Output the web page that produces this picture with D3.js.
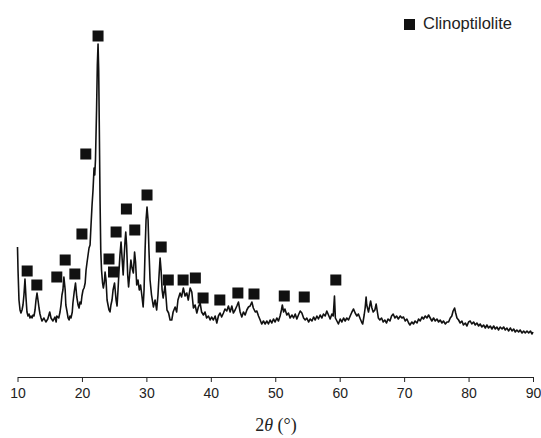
<!DOCTYPE html>
<html>
<head>
<meta charset="utf-8">
<script src="https://cdn.jsdelivr.net/npm/d3@7/dist/d3.min.js"></script>
<style>
body { margin: 0; background: #fff; }
</style>
</head>
<body>
<svg id="chart"></svg>
<script>
// measured pattern, 2theta (deg) and intensity (a.u.)
var twoTheta = [
10.0,10.08,10.23,10.39,10.54,10.70,10.85,11.0,11.16,11.32,11.47,11.63,11.79,11.94,12.1,12.25,12.41,12.56,12.72,12.87,
13.03,13.18,13.34,13.49,13.65,13.8,14.1,14.4,14.7,15.0,15.2,15.5,15.8,16.0,16.1,16.4,16.6,16.75,16.9,17.05,
17.2,17.4,17.5,17.7,17.85,18.0,18.15,18.3,18.5,18.6,18.8,19.0,19.2,19.4,19.55,19.7,19.86,20.0,20.17,20.33,
20.5,20.64,20.8,20.95,21.1,21.26,21.41,21.57,21.72,21.88,21.99,22.1,22.27,22.39,22.5,22.6,22.7,22.81,22.92,23.04,
23.2,23.32,23.48,23.59,23.74,23.9,24.05,24.2,24.36,24.5,24.67,24.83,25.06,25.3,25.45,25.6,25.76,25.9,26.07,26.2,
26.4,26.5,26.7,26.8,26.93,27.1,27.24,27.4,27.6,27.78,27.98,28.17,28.32,28.5,28.7,28.9,29.1,29.29,29.5,29.64,
29.8,29.95,30.1,30.26,30.4,30.57,30.8,31.09,31.35,31.6,31.8,31.97,32.13,32.28,32.44,32.6,32.75,32.9,33.06,33.2,
33.45,33.68,33.94,34.15,34.46,34.7,34.9,35.23,35.46,35.74,36.0,36.27,36.5,36.8,37.05,37.3,37.56,37.83,38.07,38.34,
38.57,38.85,39.1,39.35,39.63,39.9,40.12,40.4,40.67,40.93,41.18,41.44,41.68,41.96,42.2,42.48,42.73,43.0,43.26,43.5,
43.77,44.04,44.29,44.55,44.81,45.06,45.33,45.59,45.84,46.1,46.37,46.6,46.9,47.14,47.4,47.66,47.9,48.17,48.43,48.7,
48.94,49.2,49.47,49.72,49.98,50.24,50.5,50.75,50.96,51.1,51.3,51.5,51.8,52.05,52.3,52.6,52.84,53.1,53.35,53.6,
53.87,54.13,54.4,54.65,54.9,55.17,55.43,55.7,55.95,56.2,56.46,56.7,56.97,57.24,57.48,57.75,58.0,58.26,58.52,58.79,
59.0,59.19,59.33,59.57,59.8,60.08,60.34,60.6,60.85,61.1,61.37,61.63,61.9,62.15,62.4,62.67,62.9,63.2,63.4,63.57,
63.8,63.95,64.1,64.2,64.47,64.65,64.8,65.0,65.2,65.46,65.66,65.85,66.0,66.23,66.5,66.75,67.0,67.27,67.5,67.8,
68.05,68.3,68.57,68.83,69.1,69.4,69.66,69.9,70.17,70.43,70.7,70.9,71.2,71.45,71.7,72.0,72.24,72.5,72.77,73.0,
73.28,73.54,73.8,74.05,74.3,74.57,74.83,75.1,75.35,75.6,75.87,76.1,76.4,76.65,76.9,77.16,77.4,77.6,77.83,78.0,
78.2,78.45,78.7,78.97,79.2,79.5,79.75,80.0,80.26,80.5,80.78,81.04,81.3,81.56,81.8,82.07,82.33,82.6,82.85,83.1,
83.37,83.63,83.9,84.15,84.4,84.66,84.9,85.2,85.44,85.7,85.96,86.2,86.5,86.74,87.0,87.25,87.5,87.77,88.0,88.3,
88.55,88.8,89.07,89.33,89.6,89.85,90.0
];
var intensity = [
130,107,77,67,64,67,72,82,98,79,65,61,63,59,61,59,62,61,67,77,
84,77,69,63,59,56,59,55,58,65,59,56,60,55,61,59,65,72,82,87,
100,87,72,65,59,57,61,59,65,74,85,94,80,72,69,75,73,81,87,89,
94,107,115,122,129,132,152,172,187,209,202,217,267,312,333,307,247,177,127,107,
94,89,95,105,97,77,72,67,65,72,77,87,94,77,71,87,107,122,135,122,
102,115,137,145,132,102,90,102,117,109,104,125,115,92,97,87,92,82,70,87,
127,157,170,157,127,97,82,70,77,67,82,102,119,107,87,79,85,92,79,67,
64,57,57,65,70,65,77,84,80,89,81,84,77,89,85,69,72,64,70,74,
65,62,65,59,61,57,60,57,61,54,61,64,60,64,68,66,71,65,71,64,
67,71,75,65,60,65,62,67,70,71,75,69,65,66,61,57,53,56,53,56,
53,57,54,58,55,59,56,61,67,72,65,68,62,64,59,62,59,63,58,62,
66,64,59,57,59,55,58,56,60,57,61,58,62,59,63,61,66,62,58,63,
61,81,59,56,53,58,55,59,56,59,57,61,65,68,64,61,63,58,55,53,
62,69,80,72,65,71,76,69,65,67,73,65,59,57,59,55,57,54,58,56,
61,63,59,61,58,61,59,60,56,58,54,52,55,53,56,54,58,56,60,58,
61,59,62,59,56,59,56,58,55,57,54,56,53,55,55,59,61,66,69,64,
59,57,54,56,52,54,51,55,56,53,55,52,54,51,53,50,52,49,52,49,
51,48,51,48,50,47,50,48,50,47,49,46,49,46,48,45,47,45,47,44,
46,44,46,44,46,43,45
];

// clinoptilolite reflections: marker position and height
var markerTheta = [11.5,13.0,16.1,17.4,18.9,20.0,20.6,22.5,24.2,24.9,25.3,26.9,28.2,30.1,32.3,33.4,35.7,37.6,38.8,41.4,44.2,46.7,51.4,54.5,59.4];
var markerHeight = [106,92,100,117,103,143,223,341,118,105,145,168,147,182,130,97,97,99,79,77,84,83,81,80,97];

var xTicks = [10,20,30,40,50,60,70,80,90];
var legendLabel = 'Clinoptilolite';

var width = 541, height = 438;
var svg = d3.select('#chart').attr('width', width).attr('height', height);

var x = d3.scaleLinear().domain([10, 90]).range([17.5, 533]);
var y = d3.scaleLinear().domain([0, 360]).range([377, 17]);

var points = twoTheta.map((t, i) => [t, intensity[i]]);

svg.append('path')
	.datum(points)
	.attr('fill', 'none')
	.attr('stroke', '#111')
	.attr('stroke-width', 1.6)
	.attr('stroke-linejoin', 'round')
	.attr('d', d3.line().x(d => x(d[0])).y(d => y(d[1])));

var sq = 11;
svg.append('g').selectAll('rect')
	.data(markerTheta)
	.enter()
	.append('rect')
		.attr('x', (d) => x(d) - sq / 2)
		.attr('y', (d, i) => y(markerHeight[i]) - sq / 2)
		.attr('width', sq)
		.attr('height', sq)
		.attr('fill', '#111');

var axis = svg.append('g')
	.attr('transform', 'translate(0,' + y(0) + ')')
	.call(d3.axisBottom(x).tickValues(xTicks).tickSize(5).tickSizeOuter(0).tickPadding(6));
axis.select('.domain').attr('stroke', '#222');
axis.selectAll('.tick line').attr('stroke', '#222');
axis.selectAll('.tick text')
	.attr('fill', '#222')
	.style('font-family', 'Liberation Sans, Arial, sans-serif')
	.style('font-size', '14px');

var title = svg.append('text')
	.attr('x', 276)
	.attr('y', 431)
	.attr('text-anchor', 'middle')
	.attr('fill', '#222')
	.style('font-family', 'Liberation Serif, Times New Roman, serif')
	.style('font-size', '18px');
title.append('tspan').text('2');
title.append('tspan').style('font-style', 'italic').text('θ');
title.append('tspan').text(' (°)');

// legend
svg.append('rect')
	.attr('x', 404).attr('y', 19)
	.attr('width', sq).attr('height', sq)
	.attr('fill', '#111');
svg.append('text')
	.attr('x', 423).attr('y', 28.5)
	.attr('fill', '#222')
	.style('font-family', 'Liberation Sans, Arial, sans-serif')
	.style('font-size', '16.5px')
	.text(legendLabel);
</script>
</body>
</html>
